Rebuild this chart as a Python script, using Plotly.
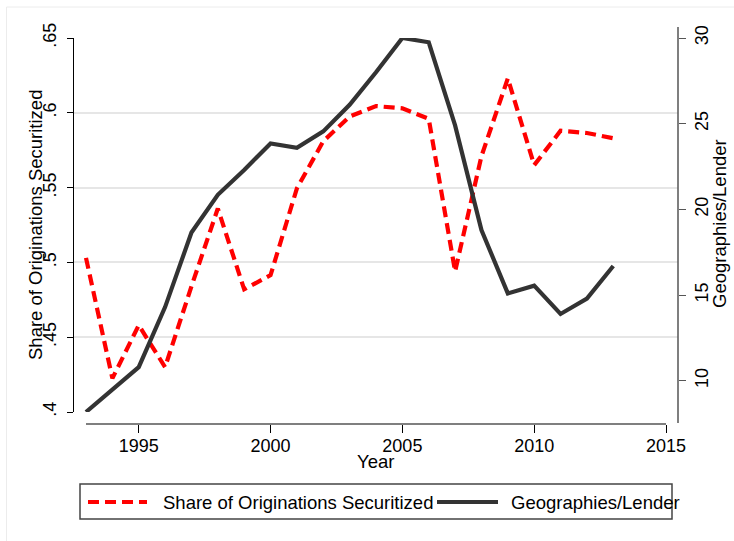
import plotly.graph_objects as go

years = list(range(1993, 2014))
share_securitized = [0.503, 0.4225, 0.458, 0.430, 0.484, 0.536, 0.482, 0.4915,
                     0.5495, 0.581, 0.5975, 0.6045, 0.603, 0.596, 0.494, 0.571,
                     0.623, 0.565, 0.588, 0.5865, 0.583]
geo_per_lender = [8.18, 9.5, 10.8, 14.3, 18.65, 20.85, 22.3, 23.85, 23.6, 24.55,
                  26.1, 28.0, 30.0, 29.75, 24.9, 18.8, 15.1, 15.55, 13.9, 14.8, 16.7]

x_ticks = [1995, 2000, 2005, 2010, 2015]
left_ticks = [0.4, 0.45, 0.5, 0.55, 0.6, 0.65]
left_ticktext = [".4", ".45", ".5", ".55", ".6", ".65"]
right_ticks = [10, 15, 20, 25, 30]

name_red = "Share of Originations Securitized"
name_black = "Geographies/Lender"
x_title = "Year"

FONT = "Liberation Sans, Arial, Helvetica, sans-serif"
FS = 18
FS_T = 18.5

W, H = 734, 541
L, R, T, B = 73, 56, 27, 117
PW = W - L - R
PH = H - T - B


def px_x(p):
    return (p - L) / PW


def px_y(p):
    return (H - B - p) / PH


fig = go.Figure()
fig.add_trace(go.Scatter(x=years, y=share_securitized, name=name_red, mode="lines",
                         line=dict(color="#ff0000", width=4.2, dash="11px,6px"),
                         yaxis="y", showlegend=False))
fig.add_trace(go.Scatter(x=years, y=geo_per_lender, name=name_black, mode="lines",
                         line=dict(color="#333333", width=4.2),
                         yaxis="y2", showlegend=False))

ydom = [px_y(412), px_y(38)]

fig.update_layout(
    width=W, height=H, autosize=False,
    margin=dict(l=L, r=R, t=T, b=B, pad=0, autoexpand=False),
    paper_bgcolor="white", plot_bgcolor="white",
    font=dict(family=FONT, size=FS, color="black"),
    xaxis=dict(domain=[0, 1], range=[1993 - 13 / 26.36, 2015 + 12 / 26.36],
               tickvals=x_ticks, ticks="outside", ticklen=8, tickwidth=1.2,
               tickcolor="black", showline=False, showgrid=False, zeroline=False,
               anchor="free", position=0, automargin=False,
               ticklabelstandoff=-3),
    yaxis=dict(domain=ydom, range=[0.4, 0.65], tickvals=left_ticks,
               ticktext=left_ticktext, tickangle=-90, ticks="outside",
               ticklen=6, tickwidth=1.2, tickcolor="black",
               showline=True, linecolor="black", linewidth=1.2,
               showgrid=True, gridcolor="#e6e6e6", gridwidth=1.5, zeroline=False,
               anchor="free", position=0, automargin=False,
               ticklabelstandoff=4),
    yaxis2=dict(domain=ydom, range=[8.18, 30], tickvals=right_ticks,
                tickangle=-90, ticks="outside", ticklen=7, tickwidth=1.2,
                tickcolor="#555555", showline=False, showgrid=False,
                zeroline=False, overlaying="y", side="right",
                anchor="free", position=1, automargin=False),
)

shapes = [
    # faint outer frame of the graph region
    dict(type="rect", xref="paper", yref="paper", x0=px_x(6.5), x1=px_x(745),
         y0=px_y(550), y1=px_y(7), line=dict(color="#ececec", width=1),
         fillcolor="rgba(0,0,0,0)", layer="below"),
    dict(type="line", xref="x", yref="paper", x0=1993, x1=2015, y0=0, y1=0,
         line=dict(color="black", width=1.2)),
    dict(type="line", xref="paper", yref="paper", x0=1, x1=1,
         y0=px_y(423), y1=1, line=dict(color="#555555", width=1.5)),
    dict(type="rect", xref="paper", yref="paper", x0=px_x(80), x1=px_x(672),
         y0=px_y(519), y1=px_y(484), line=dict(color="#444444", width=1.5),
         fillcolor="rgba(0,0,0,0)"),
    dict(type="line", xref="paper", yref="paper", x0=px_x(88), x1=px_x(147),
         y0=px_y(502), y1=px_y(502),
         line=dict(color="#ff0000", width=4.2, dash="11px,6px")),
    dict(type="line", xref="paper", yref="paper", x0=px_x(437), x1=px_x(498),
         y0=px_y(502), y1=px_y(502), line=dict(color="#333333", width=4.2)),
]
fig.update_layout(shapes=shapes)

# axis titles
fig.add_annotation(xref="paper", yref="paper", x=px_x(36), y=px_y(225),
                   text=name_red, textangle=-90, showarrow=False,
                   xanchor="center", yanchor="middle", font=dict(size=FS_T))
fig.add_annotation(xref="paper", yref="paper", x=px_x(719), y=px_y(224),
                   text=name_black, textangle=-90, showarrow=False,
                   xanchor="center", yanchor="middle", font=dict(size=FS_T))
fig.add_annotation(xref="paper", yref="paper", x=px_x(375), y=px_y(462),
                   text=x_title, showarrow=False,
                   xanchor="center", yanchor="middle", font=dict(size=FS_T))

# legend
fig.add_annotation(xref="paper", yref="paper", x=px_x(161), y=px_y(502),
                   text=name_red, showarrow=False, xanchor="left",
                   yanchor="middle", font=dict(size=FS_T))
fig.add_annotation(xref="paper", yref="paper", x=px_x(509), y=px_y(502),
                   text=name_black, showarrow=False, xanchor="left",
                   yanchor="middle", font=dict(size=FS_T))

fig.write_html("out.html", config={"displayModeBar": False},
               post_script="document.body.style.margin='0';document.body.style.overflow='hidden';")
